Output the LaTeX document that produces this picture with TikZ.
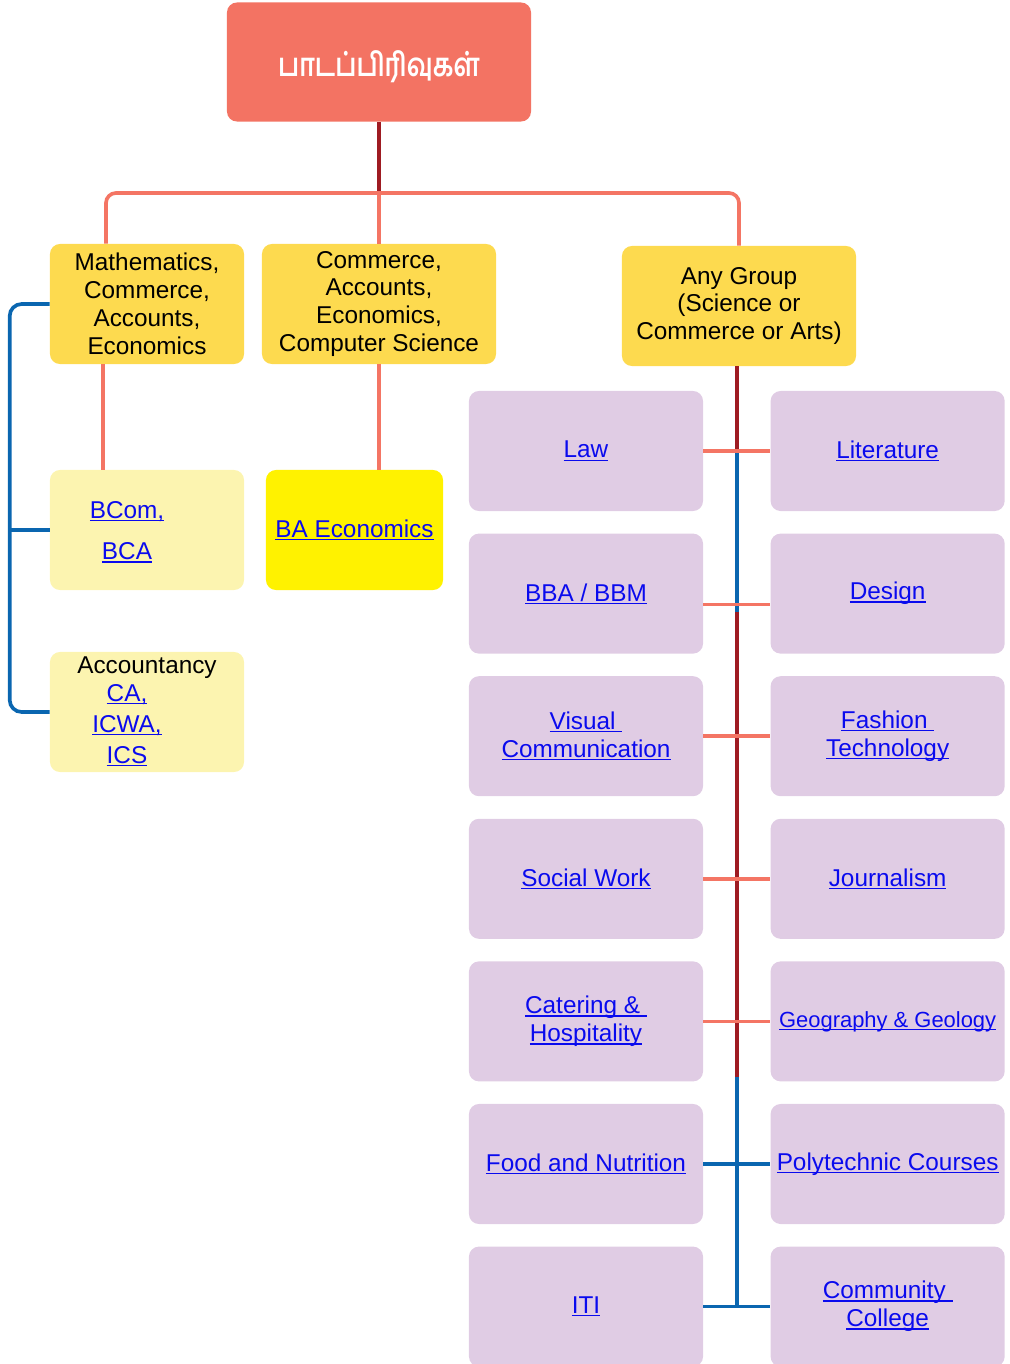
\documentclass[tikz,border=0pt]{standalone}
\usepackage{fontspec}
\setmainfont{Liberation Sans}
\newfontfamily\tamilfont[Script=Tamil,FakeStretch=0.78]{Hind Madurai}
\usetikzlibrary{positioning,calc}

\definecolor{topred}{HTML}{F37363}
\definecolor{grpyellow}{HTML}{FDDA4F}
\definecolor{paleyellow}{HTML}{FCF4B0}
\definecolor{brightyellow}{HTML}{FFF200}
\definecolor{coursepurple}{HTML}{E0CCE4}
\definecolor{salmonline}{HTML}{F47564}
\definecolor{darkredline}{HTML}{9E1B22}
\definecolor{blueline}{HTML}{0A66B0}
\definecolor{linkblue}{HTML}{0A0AEE}

\newcommand{\courselink}[1]{\setbox0\hbox{#1}\rlap{\rule[-2pt]{\wd0}{0.9pt}}\box0}

\begin{document}
\begin{tikzpicture}[x=0.025cm, y=-0.025cm, node distance=0.55cm,
                    box/.style={rectangle,rounded corners=0.25cm,inner sep=0pt,align=center,font=\fontsize{17.3}{19.9}\selectfont},
                    top node/.style={box,fill=topred,minimum width=7.6cm,minimum height=2.975cm},
                    top text/.style={text=white,inner sep=0pt,font=\tamilfont\bfseries\fontsize{23}{26}\selectfont},
                    group node/.style={box,fill=grpyellow,minimum height=3cm},
                    degree node/.style={box,minimum width=4.85cm,minimum height=3cm,text=linkblue},
                    course node/.style={box,fill=coursepurple,text=linkblue,minimum width=5.85cm,minimum height=3cm},
                    salmon line/.style={draw=salmonline,line width=2.6pt},
                    dark line/.style={draw=darkredline,line width=2.6pt},
                    blue line/.style={draw=blueline,line width=2.6pt}]

  \useasboundingbox (0,0) rectangle (1009,1364);

  % top and the three groups
  \node[top node] (top) at (379,62) {};
  \node[top text] (toptext) at (379,67) {பாடப்பிரிவுகள்};
  \node[group node,minimum width=4.85cm] (maths) at (147,304) {Mathematics,\\Commerce,\\Accounts,\\Economics};
  \node[group node,minimum width=5.85cm] (commerce) at (379,304) {Commerce,\\Accounts,\\Economics,\\Computer Science};
  \node[group node,minimum width=5.85cm] (anygroup) at (739,306) {Any Group\\(Science or\\Commerce or Arts)};
  \coordinate (bar) at (379,193);

  % degrees on the left
  \node[degree node,fill=paleyellow] (bcom) at (147,530) {};
  \node[box,text=linkblue] (bcomtext) at (127,532) {\courselink{BCom,}\\[0.33cm]\courselink{BCA}};
  \node[degree node,fill=brightyellow,minimum width=4.425cm] (baeco) at (354.5,530) {\courselink{BA Economics}};
  \node[degree node,fill=paleyellow] (acct) at (147,712) {};
  \node[box] (accttitle) at (147,668) {Accountancy};
  \node[box,text=linkblue,font=\fontsize{17.3}{22}\selectfont] (accttext) at (127,725) {\courselink{CA,}\\\courselink{ICWA,}\\\courselink{ICS}};

  % courses for any group
  \node[course node] (law) at (586,451) {\courselink{Law}};
  \node[course node,right=1.675cm of law] (literature) {\courselink{Literature}};
  \node[course node,below=of law] (bba) {\courselink{BBA / BBM}};
  \node[course node,right=1.675cm of bba] (design) {\courselink{Design}};
  \node[course node,below=of bba] (visual) {\courselink{Visual\ }\\\courselink{Communication}};
  \node[course node,right=1.675cm of visual] (fashion) {\courselink{Fashion\ }\\\courselink{Technology}};
  \node[course node,below=of visual] (social) {\courselink{Social Work}};
  \node[course node,right=1.675cm of social] (journalism) {\courselink{Journalism}};
  \node[course node,below=of social] (catering) {\courselink{Catering \&\ }\\\courselink{Hospitality}};
  \node[course node,right=1.675cm of catering,font=\fontsize{15.6}{19.9}\selectfont] (geography) {\courselink{Geography \& Geology}};
  \node[course node,below=of catering] (food) {\courselink{Food and Nutrition}};
  \node[course node,right=1.675cm of food] (polytechnic) {\courselink{Polytechnic Courses}};
  \node[course node,below=of food] (iti) {\courselink{ITI}};
  \node[course node,right=1.675cm of iti] (community) {\courselink{Community\ }\\\courselink{College}};

  \coordinate (m1) at ($(law.east)!0.5!(literature.west)$);
  \coordinate (m2) at ($(bba.east)!0.5!(design.west)$);
  \coordinate (m5) at ($(catering.east)!0.5!(geography.west)$);
  \coordinate (m7) at ($(iti.east)!0.5!(community.west)$);

  % tree lines
  \draw[dark line] (top.south) -- (bar);
  \draw[salmon line,rounded corners=0.25cm] ([xshift=-1.025cm]maths.north) |- (bar) -| (anygroup.north);
  \draw[salmon line] (bar) -- (commerce.north);
  \draw[salmon line] ([xshift=-1.1cm]maths.south) -- ([xshift=-1.1cm]bcom.north);
  \draw[salmon line] (commerce.south) -- (commerce.south |- baeco.north);
  \draw[blue line,rounded corners=0.3cm] (maths.west) -| ([xshift=-1cm]acct.west) -- (acct.west);
  \draw[blue line] (bcom.west) -- ++(-1cm,0);

  % spine
  \draw[dark line] (anygroup.south -| m1) -- (m1);
  \draw[blue line] (m1) -- ([yshift=-0.45cm]m2);
  \draw[dark line] ([yshift=-0.45cm]m2) -- ([yshift=-1.4cm]m5);
  \draw[blue line] ([yshift=-1.4cm]m5) -- (m7);

\path
     (law) edge[salmon line] (literature)
     ([yshift=-0.275cm]bba.east) edge[salmon line] ([yshift=-0.275cm]design.west)
     (visual) edge[salmon line] (fashion)
     (social) edge[salmon line] (journalism)
     (catering) edge[salmon line] (geography)
     (food) edge[blue line] (polytechnic)
     (iti) edge[blue line] (community)
  ;

\end{tikzpicture}
\end{document}
